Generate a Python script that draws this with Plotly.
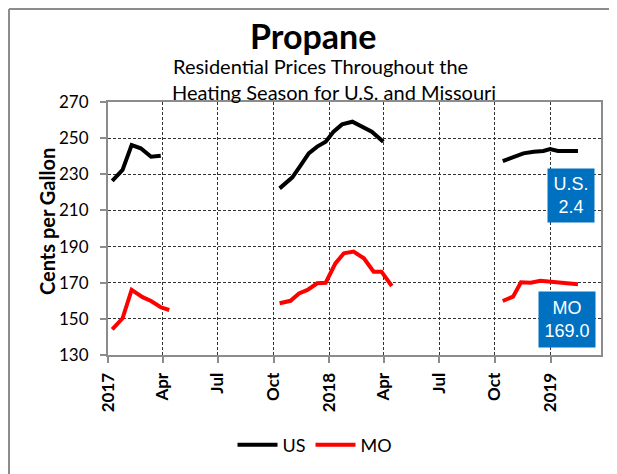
import plotly.graph_objects as go

# ---- data (cents per gallon), None separates heating seasons ----
us_dates = ["2017-01-08", "2017-01-25", "2017-02-09", "2017-02-24", "2017-03-13", "2017-03-29", None,
            "2017-10-11", "2017-11-01", "2017-11-15", "2017-11-28", "2017-12-12", "2017-12-26",
            "2018-01-08", "2018-01-22", "2018-02-08", "2018-02-21", "2018-03-12", "2018-03-31", None,
            "2018-10-14", "2018-11-01", "2018-11-17", "2018-12-04", "2018-12-20", "2018-12-31",
            "2019-01-13", "2019-01-30", "2019-02-15"]
us_values = [226.4, 232.4, 246.2, 244.4, 239.7, 240.3, None,
             222.2, 228.3, 235.1, 241.6, 245.3, 248.0,
             253.6, 257.6, 259.1, 256.7, 253.6, 248.0, None,
             237.3, 239.7, 241.6, 242.5, 242.9, 244.0,
             242.9, 242.9, 242.9]

mo_dates = ["2017-01-08", "2017-01-25", "2017-02-09", "2017-02-27", "2017-03-13", "2017-03-29", "2017-04-12", None,
            "2017-10-11", "2017-10-29", "2017-11-12", "2017-11-26", "2017-12-12", "2017-12-26",
            "2018-01-11", "2018-01-25", "2018-02-10", "2018-02-27", "2018-03-15", "2018-03-28", "2018-04-14", None,
            "2018-10-14", "2018-10-31", "2018-11-13", "2018-11-29", "2018-12-15", "2018-12-31",
            "2019-01-16", "2019-02-01", "2019-02-15"]
mo_values = [144.2, 150.3, 166.0, 162.0, 159.9, 156.4, 154.9, None,
             158.6, 160.0, 164.1, 166.0, 169.7, 170.0,
             180.7, 186.3, 187.2, 183.5, 176.1, 176.1, 168.2, None,
             159.9, 162.3, 170.2, 170.0, 171.1, 170.6,
             170.2, 169.7, 169.1]

tick_dates = ["2017-01-01", "2017-04-01", "2017-07-01", "2017-10-01", "2018-01-01",
              "2018-04-01", "2018-07-01", "2018-10-01", "2019-01-01"]
tick_labels = ["2017", "Apr", "Jul", "Oct", "2018", "Apr", "Jul", "Oct", "2019"]
y_ticks = [130, 150, 170, 190, 210, 230, 250, 270]

us_change_label = "U.S.<br>2.4"
mo_latest_label = "MO<br>169.0"

FONT = "Lato, 'Open Sans', sans-serif"
BOX = "Liberation Sans, Arial, sans-serif"

# page body has an 8px margin, so the figure is drawn 8px smaller and offset
OFF = 8
PL, PR, PT, PB = 108, 601, 102, 355  # plot area in page pixels
PW, PH = PR - PL, PB - PT


def px(x):
    return (x - PL) / PW


def py(y):
    return (PB - y) / PH


fig = go.Figure()
fig.add_trace(go.Scatter(x=us_dates, y=us_values, name="US", mode="lines",
                         line=dict(color="black", width=4), connectgaps=False))
fig.add_trace(go.Scatter(x=mo_dates, y=mo_values, name="MO", mode="lines",
                         line=dict(color="#FF0000", width=4), connectgaps=False))

axis_common = dict(showline=True, linecolor="#8C8C8C", linewidth=2, mirror=True,
                   showgrid=True, gridcolor="#333333", gridwidth=1, griddash="3px,2px",
                   ticks="outside", ticklen=6, tickcolor="#8C8C8C", tickwidth=2,
                   zeroline=False)

fig.update_layout(
    width=617 - OFF, height=474 - OFF,
    margin=dict(l=PL - OFF, r=617 - PR, t=PT - OFF, b=474 - PB, autoexpand=False),
    paper_bgcolor="white", plot_bgcolor="white",
    font=dict(family=FONT, color="black"),
    xaxis=dict(type="date", range=["2017-01-01", "2019-03-25"],
               tickvals=tick_dates, ticktext=tick_labels, tickangle=-90,
               tickfont=dict(size=17, family=FONT, weight="bold"), ticklabelstandoff=3,
               **axis_common),
    yaxis=dict(range=[130, 270], tickvals=y_ticks,
               tickfont=dict(size=17, family=FONT), ticklabelstandoff=8,
               **axis_common),
    showlegend=True,
    legend=dict(orientation="h", x=px(315), xanchor="center", y=py(445), yanchor="middle",
                font=dict(size=18, family=FONT), itemwidth=40, tracegroupgap=0,
                bgcolor="rgba(0,0,0,0)"),
)

# y-axis title
fig.add_annotation(text="<b>Cents per Gallon</b>", xref="paper", yref="paper",
                   x=px(47), y=py(222), showarrow=False, textangle=-90,
                   font=dict(size=20, family=FONT), xanchor="center", yanchor="middle")

# titles
fig.add_annotation(text="<b>Propane</b>", xref="paper", yref="paper",
                   x=px(313), y=py(35), showarrow=False,
                   font=dict(size=34, family=FONT), xanchor="center", yanchor="middle")
fig.add_annotation(text="Residential Prices Throughout the", xref="paper", yref="paper",
                   x=px(320.5), y=py(66), showarrow=False,
                   font=dict(size=20, family=FONT), xanchor="center", yanchor="middle")
fig.add_annotation(text="Heating Season for U.S. and Missouri", xref="paper", yref="paper",
                   x=px(334), y=py(92), showarrow=False,
                   font=dict(size=20, family=FONT), xanchor="center", yanchor="middle")

# value boxes
fig.add_annotation(text=us_change_label, xref="paper", yref="paper",
                   x=px(571), y=py(195.5), showarrow=False,
                   font=dict(size=18, family=BOX, color="white"),
                   bgcolor="#0070C0", width=46, height=53, borderpad=0,
                   xanchor="center", yanchor="middle")
fig.add_annotation(text=mo_latest_label, xref="paper", yref="paper",
                   x=px(567), y=py(319.5), showarrow=False,
                   font=dict(size=18, family=BOX, color="white"),
                   bgcolor="#0070C0", width=56, height=55, borderpad=0,
                   xanchor="center", yanchor="middle")

# outer chart border (left and top edges)
fig.add_shape(type="line", xref="paper", yref="paper", x0=px(9), x1=px(9), y0=py(9), y1=py(490),
              line=dict(color="#8C8C8C", width=2))
fig.add_shape(type="line", xref="paper", yref="paper", x0=px(9), x1=px(640), y0=py(9), y1=py(9),
              line=dict(color="#8C8C8C", width=2))

fig.write_html("out.html")
